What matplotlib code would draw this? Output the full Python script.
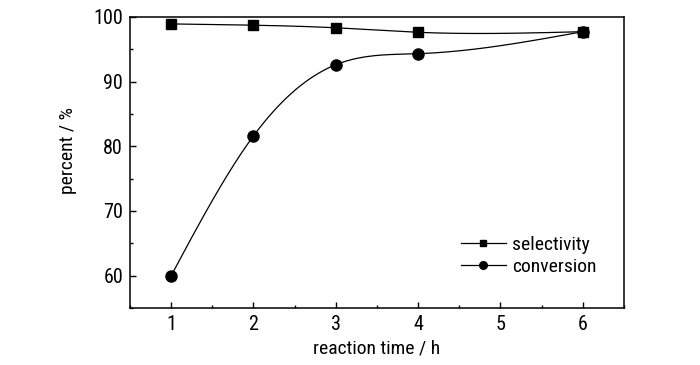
#!/usr/bin/env python3
import numpy as np
import matplotlib
matplotlib.use('Agg')
import matplotlib.pyplot as plt
from matplotlib.lines import Line2D
from matplotlib.ticker import MultipleLocator

# values
time_h = [1, 2, 3, 4, 6]
selectivity = [98.9, 98.7, 98.3, 97.6, 97.7]
conversion = [60.0, 81.6, 92.6, 94.3, 97.7]


def natural_spline(x, y, n=300):
    """Natural cubic spline through (x, y), just for drawing a smooth line."""
    x = np.asarray(x, float)
    y = np.asarray(y, float)
    k = len(x)
    h = np.diff(x)
    A = np.zeros((k, k))
    b = np.zeros(k)
    A[0, 0] = A[-1, -1] = 1.0
    for i in range(1, k - 1):
        A[i, i - 1] = h[i - 1]
        A[i, i] = 2 * (h[i - 1] + h[i])
        A[i, i + 1] = h[i]
        b[i] = 6 * ((y[i + 1] - y[i]) / h[i] - (y[i] - y[i - 1]) / h[i - 1])
    m = np.linalg.solve(A, b)
    xs = np.linspace(x[0], x[-1], n)
    idx = np.clip(np.searchsorted(x, xs) - 1, 0, k - 2)
    x0, x1 = x[idx], x[idx + 1]
    hh = x1 - x0
    t0 = x1 - xs
    t1 = xs - x0
    ys = (m[idx] * t0 ** 3 / (6 * hh) + m[idx + 1] * t1 ** 3 / (6 * hh)
          + (y[idx] / hh - m[idx] * hh / 6) * t0
          + (y[idx + 1] / hh - m[idx + 1] * hh / 6) * t1)
    return xs, ys


plt.rcParams['font.family'] = ['Liberation Sans Narrow', 'Arial Narrow',
                               'Roboto Condensed', 'DejaVu Sans']
plt.rcParams['font.stretch'] = 'condensed'

fig = plt.figure(figsize=(7, 3.65), dpi=100)
ax = fig.add_axes([0.1857, 0.156, 0.7057, 0.798])

for vals, mk, ms in [(selectivity, 's', 7.5), (conversion, 'o', 8)]:
    xs, ys = natural_spline(time_h, vals)
    ax.plot(xs, ys, color='black', lw=0.9)
    ax.plot(time_h, vals, linestyle='none', marker=mk, ms=ms, color='black')

ax.set_xlim(0.5, 6.5)
ax.set_ylim(55, 100)
ax.xaxis.set_major_locator(MultipleLocator(1))
ax.xaxis.set_minor_locator(MultipleLocator(0.5))
ax.yaxis.set_major_locator(MultipleLocator(10))
ax.yaxis.set_minor_locator(MultipleLocator(5))
ax.tick_params(which='both', direction='in', width=1.0, labelsize=14.5, pad=5)
ax.tick_params(which='major', length=4.5)
ax.tick_params(which='minor', length=2.5)
for sp in ax.spines.values():
    sp.set_linewidth(1.1)

ax.set_xlabel('reaction time / h', fontsize=14, labelpad=4)
ax.set_ylabel('percent / %', fontsize=14)
ax.yaxis.set_label_coords(-0.107, 0.542)

handles = [
    Line2D([], [], color='black', lw=0.9, marker='s', ms=5),
    Line2D([], [], color='black', lw=0.9, marker='o', ms=5.5),
]
ax.legend(handles, ['selectivity', 'conversion'], frameon=False, fontsize=14,
          loc='center left', bbox_to_anchor=(0.65, 0.178), borderpad=0,
          handlelength=2.3, handletextpad=0.35, labelspacing=0.2)

fig.savefig('out.png', dpi=100)
